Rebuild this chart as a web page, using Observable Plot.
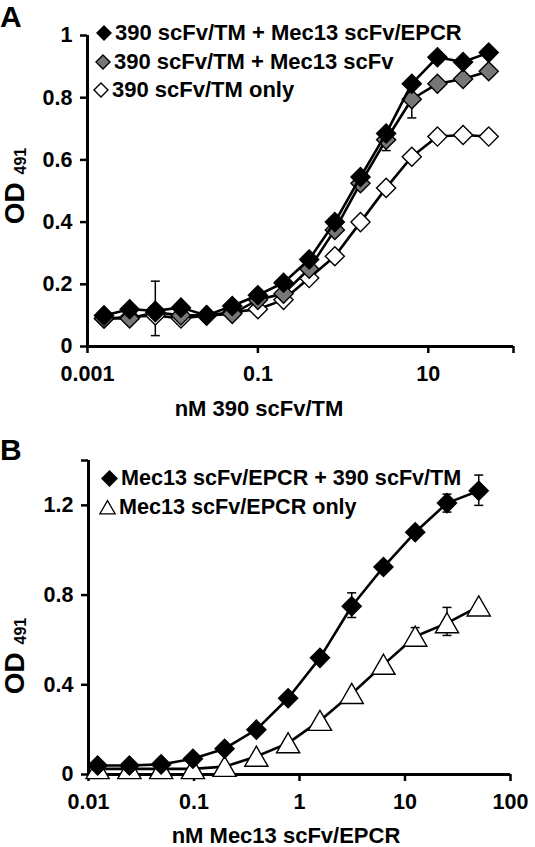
<!DOCTYPE html>
<html><head><meta charset="utf-8">
<script src="https://cdn.jsdelivr.net/npm/d3@7"></script>
<script src="https://cdn.jsdelivr.net/npm/@observablehq/plot@0.6"></script>
<style>
body{margin:0;background:#fff;}
#wrap{position:relative;width:535px;height:847px;overflow:hidden;font-family:"Liberation Sans",Arial,sans-serif;font-weight:bold;color:#000;background:#fff;}
.abs{position:absolute;white-space:nowrap;line-height:1;}
.letter{position:absolute;white-space:nowrap;line-height:normal;}
.panel{position:absolute;left:0;}
.ylab{position:absolute;transform:translate(-50%,-50%) rotate(-90deg);white-space:nowrap;font-size:28px;line-height:1;}
.ylab .sub{font-size:16px;position:relative;top:2px;}
.leg{position:absolute;display:flex;align-items:center;white-space:nowrap;height:24px;line-height:1;}
.leg svg{margin-right:3px;}
</style></head><body><div id="wrap"></div>
<script>
// ---------- Panel A data ----------
const concA = [0.0015625, 0.003125, 0.00625, 0.0125, 0.025, 0.05, 0.1, 0.2, 0.4, 0.8, 1.6, 3.2, 6.4, 12.8, 25.6, 51.2];
const odA_scFvEPCR = [0.10, 0.12, 0.115, 0.125, 0.10, 0.13, 0.165, 0.205, 0.28, 0.40, 0.545, 0.685, 0.845, 0.93, 0.915, 0.945];
const odA_scFv     = [0.09, 0.09, 0.11, 0.10, 0.10, 0.105, 0.15, 0.17, 0.25, 0.375, 0.525, 0.665, 0.795, 0.845, 0.86, 0.885];
const odA_only     = [0.09, 0.095, 0.10, 0.09, 0.10, 0.11, 0.12, 0.15, 0.22, 0.29, 0.40, 0.51, 0.61, 0.675, 0.68, 0.675];
const errA_x  = [0.00625, 3.2, 6.4];
const errA_lo = [0.035, 0.63, 0.735];
const errA_hi = [0.21, 0.69, 0.80];
const seriesA = ["390 scFv/TM + Mec13 scFv/EPCR", "390 scFv/TM + Mec13 scFv", "390 scFv/TM only"];
const xTicksA = [0.001, 0.1, 10, 100];
const xTickLabelsA = ["0.001", "0.1", "10", ""];
const yTicksA = [0, 0.2, 0.4, 0.6, 0.8, 1];
const yTickLabelsA = ["0", "0.2", "0.4", "0.6", "0.8", "1"];

// ---------- Panel B data ----------
const concB = [0.0122, 0.0244, 0.0488, 0.0977, 0.195, 0.39, 0.78, 1.5625, 3.125, 6.25, 12.5, 25, 50];
const odB_combo = [0.04, 0.04, 0.045, 0.07, 0.115, 0.20, 0.34, 0.52, 0.75, 0.925, 1.08, 1.21, 1.265];
const odB_only  = [0.025, 0.025, 0.025, 0.025, 0.035, 0.08, 0.14, 0.24, 0.36, 0.49, 0.615, 0.675, 0.75];
const errB_combo_x  = [3.125, 25, 50];
const errB_combo_lo = [0.70, 1.17, 1.20];
const errB_combo_hi = [0.81, 1.25, 1.335];
const errB_only_x  = [12.5, 25];
const errB_only_lo = [0.58, 0.62];
const errB_only_hi = [0.655, 0.745];
const seriesB = ["Mec13 scFv/EPCR + 390 scFv/TM", "Mec13 scFv/EPCR only"];
const xTicksB = [0.01, 0.1, 1, 10, 100];
const xTickLabelsB = ["0.01", "0.1", "1", "10", "100"];
const yTicksB = [0, 0.4, 0.8, 1.2, 1.4];
const yTickLabelsB = ["0", "0.4", "0.8", "1.2", ""];

// ---------- helpers ----------
const FONT = '"Liberation Sans", Arial, Helvetica, sans-serif';
const cap = {draw(c){ c.moveTo(-4.5,0); c.lineTo(4.5,0); }};
const rows = (xs, ys) => xs.map((x,i) => ({x, y: ys[i]}));
const errRows = (xs, lo, hi) => xs.map((x,i) => ({x, lo: lo[i], hi: hi[i]}));
function errMarks(data){
  return [
    Plot.ruleX(data, {x:"x", y1:"lo", y2:"hi", stroke:"#000", strokeWidth:1.5}),
    Plot.dot(data, {x:"x", y:"lo", symbol:cap, stroke:"#000", strokeWidth:1.5, r:3}),
    Plot.dot(data, {x:"x", y:"hi", symbol:cap, stroke:"#000", strokeWidth:1.5, r:3})
  ];
}
function seriesMarks(data, symbol, fill, r, dy=0){
  return [
    Plot.line(data, {x:"x", y:"y", stroke:"#000", strokeWidth:2.6}),
    Plot.dot(data, {x:"x", y:"y", symbol, fill, stroke:"#000", strokeWidth:1.4, r, dy})
  ];
}
function axes(xt, xl, yt, yl, xmin){
  return [
    Plot.axisY({ticks: yt, tickFormat: d => yl[yt.indexOf(d)], tickSize: 7, tickPadding: 8, strokeWidth: 2.5, fontSize: 21.5, label: null}),
    Plot.axisX({ticks: xt, tickFormat: d => xl[xt.indexOf(d)], tickSize: 7, tickPadding: 12, strokeWidth: 2.5, fontSize: 21.5, label: null}),
    Plot.ruleY([0], {stroke:"#000", strokeWidth:3}),
    Plot.ruleX([xmin], {stroke:"#000", strokeWidth:3})
  ];
}

const wrap = document.getElementById("wrap");

// ---------- Panel A ----------
const plotA = Plot.plot({
  width: 535, height: 420,
  marginLeft: 87, marginRight: 22, marginTop: 35, marginBottom: 74,
  style: {fontFamily: FONT, fontWeight: "bold", fontSize: "21px", color: "#000", background: "transparent", overflow: "visible"},
  x: {type: "log", domain: [0.001, 100]},
  y: {domain: [0, 1]},
  marks: [
    ...axes(xTicksA, xTickLabelsA, yTicksA, yTickLabelsA, 0.001),
    ...errMarks(errRows(errA_x, errA_lo, errA_hi)),
    ...seriesMarks(rows(concA, odA_only), "diamond2", "#fff", 8.6),
    ...seriesMarks(rows(concA, odA_scFv), "diamond2", "#777", 8.6),
    ...seriesMarks(rows(concA, odA_scFvEPCR), "diamond2", "#000", 8.6)
  ]
});
const divA = document.createElement("div");
divA.className = "panel"; divA.style.top = "0px";
divA.appendChild(plotA);
wrap.appendChild(divA);

// ---------- Panel B ----------
const plotB = Plot.plot({
  width: 535, height: 427,
  marginLeft: 88, marginRight: 25, marginTop: 40, marginBottom: 73,
  style: {fontFamily: FONT, fontWeight: "bold", fontSize: "21px", color: "#000", background: "transparent", overflow: "visible"},
  x: {type: "log", domain: [0.01, 100]},
  y: {domain: [0, 1.4]},
  marks: [
    ...axes(xTicksB, xTickLabelsB, yTicksB, yTickLabelsB, 0.01),
    ...errMarks(errRows(errB_only_x, errB_only_lo, errB_only_hi)),
    ...errMarks(errRows(errB_combo_x, errB_combo_lo, errB_combo_hi)),
    ...seriesMarks(rows(concB, odB_only), "triangle", "#fff", 8.6, 3),
    ...seriesMarks(rows(concB, odB_combo), "diamond2", "#000", 8.6)
  ]
});
const divB = document.createElement("div");
divB.className = "panel"; divB.style.top = "420px";
divB.appendChild(plotB);
wrap.appendChild(divB);

// ---------- Text: panel letters, axis titles, legends ----------
function addText(txt, left, top, size, extra, cls){
  const d = document.createElement("div");
  d.className = cls || "abs"; d.textContent = txt;
  d.style.left = left + "px"; d.style.top = top + "px"; d.style.fontSize = size + "px";
  if (extra) Object.assign(d.style, extra);
  wrap.appendChild(d); return d;
}
addText("A", 0, 0, 30, null, "letter");
addText("B", 0, 433, 30, null, "letter");
addText("nM 390 scFv/TM", 259, 398, 22, {transform: "translateX(-50%)"});
addText("nM Mec13 scFv/EPCR", 286, 825, 22, {transform: "translateX(-50%)"});

function addYLabel(cx, cy){
  const d = document.createElement("div");
  d.className = "ylab";
  d.style.left = cx + "px"; d.style.top = cy + "px";
  d.innerHTML = 'OD <span class="sub">491</span>';
  wrap.appendChild(d);
}
addYLabel(15, 186);
addYLabel(15, 656);

const diamondSVG = (fill, s) => `<svg width="${s}" height="${s}" viewBox="-8 -8 16 16"><path d="M0,-7L7,0L0,7L-7,0Z" fill="${fill}" stroke="#000" stroke-width="1.4"/></svg>`;
const triangleSVG = (s) => `<svg width="${s}" height="${s}" viewBox="-8 -8 16 16"><path d="M0,-6.5L7.2,6L-7.2,6Z" fill="#fff" stroke="#000" stroke-width="1.2"/></svg>`;
function addLegend(markerHTML, label, left, cy, size){
  const d = document.createElement("div");
  d.className = "leg";
  d.style.left = left + "px"; d.style.top = (cy - 12) + "px"; d.style.fontSize = size + "px";
  d.innerHTML = markerHTML + `<span>${label}</span>`;
  wrap.appendChild(d);
}
addLegend(diamondSVG("#000", 16), seriesA[0], 96, 33, 22);
addLegend(diamondSVG("#777", 16), seriesA[1], 95, 62, 22);
addLegend(diamondSVG("#fff", 16), seriesA[2], 93, 90, 22);
addLegend(diamondSVG("#000", 17), seriesB[0], 101, 478, 21.6);
addLegend(triangleSVG(17), seriesB[1], 99, 507, 21.6);
</script></body></html>
